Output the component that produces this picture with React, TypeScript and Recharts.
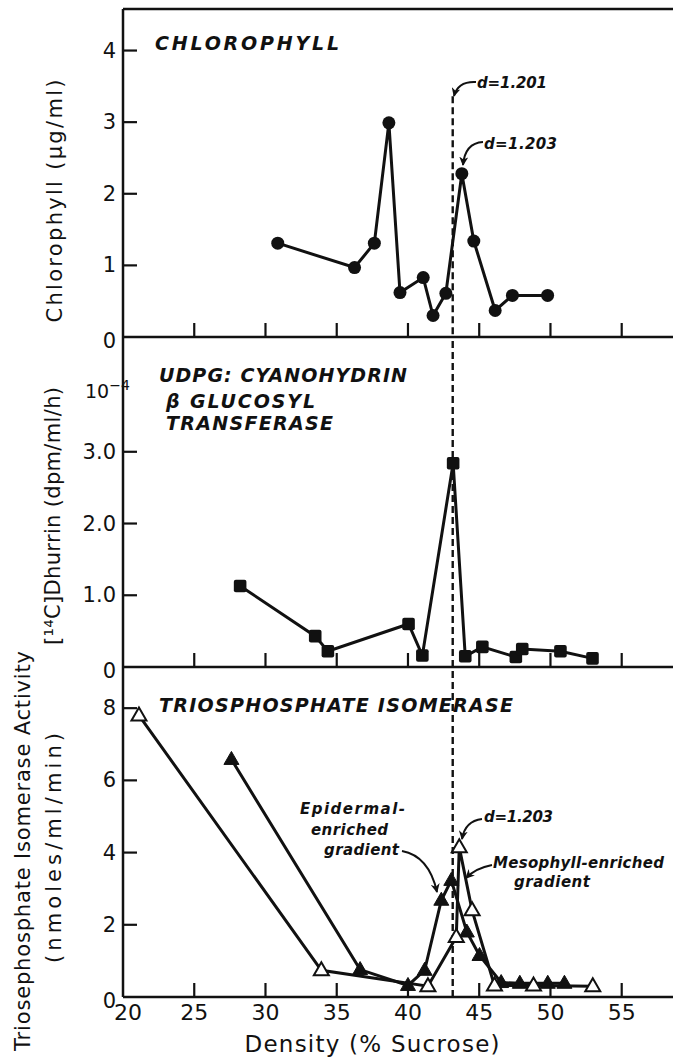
import React from 'react';
import { LineChart, Line, XAxis, YAxis, ReferenceLine } from 'recharts';

// ---------- data ----------
const xTicks = [20, 25, 30, 35, 40, 45, 50, 55];
const X_DOMAIN: [number, number] = [20, 58.6];
const DASH_X = 43.14;

const chlorophyllX = [30.86, 36.25, 37.64, 38.66, 39.44, 41.07, 41.76, 42.66, 43.78, 44.62, 46.12, 47.33, 49.8];
const chlorophyllY = [1.31, 0.97, 1.31, 2.99, 0.62, 0.83, 0.3, 0.61, 2.28, 1.34, 0.37, 0.58, 0.58];
const chlorophyllTicks = [0, 1, 2, 3, 4];
const chlorophyllTickLabels = ['0', '1', '2', '3', '4'];
const P1_MAX = 4.58;

const dhurrinX = [28.22, 33.49, 34.38, 40.04, 41.01, 43.17, 44.02, 45.22, 47.57, 48.02, 50.7, 52.95];
const dhurrinY = [1.13, 0.43, 0.22, 0.6, 0.16, 2.84, 0.15, 0.28, 0.14, 0.25, 0.22, 0.12];
const dhurrinTicks = [0, 1, 2, 3];
const dhurrinTickLabels = ['0', '1.0', '2.0', '3.0'];
const P2_MAX = 4.6;

const epidermalX = [27.61, 36.64, 40.0, 41.17, 42.34, 43.04, 44.13, 45.02, 46.54, 47.85, 49.81, 50.98];
const epidermalY = [6.58, 0.76, 0.32, 0.74, 2.68, 3.23, 1.8, 1.15, 0.4, 0.38, 0.38, 0.38];
const mesophyllX = [21.12, 33.92, 41.4, 43.39, 43.6, 44.5, 46.07, 48.81, 52.97];
const mesophyllY = [7.8, 0.74, 0.3, 1.66, 4.15, 2.4, 0.32, 0.32, 0.3];
const tpiTicks = [0, 2, 4, 6, 8];
const tpiTickLabels = ['0', '2', '4', '6', '8'];
const P3_MAX = 9.14;

const zip = (xs: number[], ys: number[]) => xs.map((x, i) => ({ x, y: ys[i] }));
const chlorophyllData = zip(chlorophyllX, chlorophyllY);
const dhurrinData = zip(dhurrinX, dhurrinY);
const epidermalData = zip(epidermalX, epidermalY);
const mesophyllData = zip(mesophyllX, mesophyllY);

// ---------- styles ----------
const FONT = '"DejaVu Sans", "Liberation Sans", sans-serif';
const INK = '#111';
const AXIS_W = 2.5;
const LINE_W = 3;

// ---------- ticks ----------
const makeYTick = (ticks: number[], labels: string[]) => (props: any) => {
  const { x, y, payload } = props;
  const i = ticks.indexOf(payload.value);
  const label = i >= 0 ? labels[i] : String(payload.value);
  const isZero = payload.value === 0;
  return (
    <g>
      {!isZero && <line x1={x} x2={x + 14} y1={y} y2={y} stroke={INK} strokeWidth={2.2} />}
      <text
        x={x - 7}
        y={y + (isZero ? 4 : 0)}
        textAnchor="end"
        dominantBaseline="central"
        fontFamily={FONT}
        fontSize={21}
        fill={INK}
      >
        {label}
      </text>
    </g>
  );
};

const makeXTick = (showLabel: boolean) => (props: any) => {
  const { x, y, payload } = props;
  return (
    <g>
      {payload.value !== 20 && <line x1={x} x2={x} y1={y} y2={y - 14} stroke={INK} strokeWidth={2.2} />}
      {showLabel && (
        <text
          x={x + (payload.value === 20 ? 5 : 0)}
          y={y + 23}
          textAnchor="middle"
          fontFamily={FONT}
          fontSize={22}
          fill={INK}
        >
          {payload.value}
        </text>
      )}
    </g>
  );
};

// ---------- markers ----------
const Circle = (p: any) => <circle key={`c${p.index}`} cx={p.cx} cy={p.cy} r={6.5} fill={INK} />;
const Square = (p: any) => (
  <rect key={`s${p.index}`} x={p.cx - 6.3} y={p.cy - 6.3} width={12.6} height={12.6} rx={2} fill={INK} />
);
const FilledTri = (p: any) => (
  <polygon
    key={`ft${p.index}`}
    points={`${p.cx},${p.cy - 8} ${p.cx - 7.5},${p.cy + 5} ${p.cx + 7.5},${p.cy + 5}`}
    fill={INK}
    stroke={INK}
    strokeWidth={1}
  />
);
const OpenTri = (p: any) => (
  <polygon
    key={`ot${p.index}`}
    points={`${p.cx},${p.cy - 8} ${p.cx - 7.5},${p.cy + 5} ${p.cx + 7.5},${p.cy + 5}`}
    fill="#fff"
    stroke={INK}
    strokeWidth={2}
  />
);

const xAxisCommon = {
  dataKey: 'x',
  type: 'number' as const,
  domain: X_DOMAIN,
  ticks: xTicks,
  allowDataOverflow: true,
  tickSize: 0,
  tickMargin: 0,
  tickLine: false,
  axisLine: { stroke: INK, strokeWidth: AXIS_W },
  interval: 0 as const,
};

const yAxisCommon = {
  type: 'number' as const,
  width: 123,
  tickSize: 0,
  tickMargin: 0,
  tickLine: false,
  allowDataOverflow: true,
  axisLine: { stroke: INK, strokeWidth: AXIS_W },
  interval: 0 as const,
};

const dashProps = { stroke: INK, strokeWidth: 2.4, strokeDasharray: '7 4' };

export default function App() {
  return (
    <div style={{ position: 'absolute', left: 0, top: 0, width: 673, height: 1061, background: '#fff', overflow: 'hidden' }}>
      {/* Panel 1: Chlorophyll */}
      <div style={{ position: 'absolute', left: 0, top: 0 }}>
        <LineChart width={673} height={360} margin={{ top: 9, right: 0, bottom: 22, left: 0 }}>
          <XAxis {...xAxisCommon} height={1} tick={makeXTick(false)} />
          <YAxis {...yAxisCommon} domain={[0, P1_MAX]} ticks={chlorophyllTicks} tick={makeYTick(chlorophyllTicks, chlorophyllTickLabels)} />
          <ReferenceLine y={P1_MAX} stroke={INK} strokeWidth={AXIS_W} />
          <ReferenceLine segment={[{ x: DASH_X, y: 3.36 }, { x: DASH_X, y: 0 }]} {...dashProps} />
          <Line
            data={chlorophyllData}
            dataKey="y"
            stroke={INK}
            strokeWidth={LINE_W}
            dot={Circle}
            activeDot={false}
            isAnimationActive={false}
          />
        </LineChart>
      </div>

      {/* Panel 2: Dhurrin */}
      <div style={{ position: 'absolute', left: 0, top: 330 }}>
        <LineChart width={673} height={370} margin={{ top: 7, right: 0, bottom: 32, left: 0 }}>
          <XAxis {...xAxisCommon} height={1} tick={makeXTick(false)} />
          <YAxis {...yAxisCommon} domain={[0, P2_MAX]} ticks={dhurrinTicks} tick={makeYTick(dhurrinTicks, dhurrinTickLabels)} />
          <ReferenceLine x={DASH_X} {...dashProps} />
          <Line
            data={dhurrinData}
            dataKey="y"
            stroke={INK}
            strokeWidth={LINE_W}
            dot={Square}
            activeDot={false}
            isAnimationActive={false}
          />
        </LineChart>
      </div>

      {/* Panel 3: Triosephosphate isomerase */}
      <div style={{ position: 'absolute', left: 0, top: 660 }}>
        <LineChart width={673} height={401} margin={{ top: 7, right: 0, bottom: 24, left: 0 }}>
          <XAxis {...xAxisCommon} height={40} tick={makeXTick(true)} />
          <YAxis {...yAxisCommon} domain={[0, P3_MAX]} ticks={tpiTicks} tick={makeYTick(tpiTicks, tpiTickLabels)} />
          <ReferenceLine x={DASH_X} {...dashProps} />
          <Line
            data={epidermalData}
            dataKey="y"
            name="Epidermal-enriched gradient"
            stroke={INK}
            strokeWidth={LINE_W}
            dot={FilledTri}
            activeDot={false}
            isAnimationActive={false}
          />
          <Line
            data={mesophyllData}
            dataKey="y"
            name="Mesophyll-enriched gradient"
            stroke={INK}
            strokeWidth={LINE_W}
            dot={OpenTri}
            activeDot={false}
            isAnimationActive={false}
          />
        </LineChart>
      </div>

      {/* Text overlay */}
      <svg width={673} height={1061} style={{ position: 'absolute', left: 0, top: 0, pointerEvents: 'none' }}>
        <defs>
          <marker id="ah" viewBox="0 0 10 10" refX="9" refY="5" markerWidth="9" markerHeight="9" markerUnits="userSpaceOnUse" orient="auto">
            <path d="M0,0 L10,5 L0,10 L3,5 z" fill={INK} />
          </marker>
        </defs>
        <g fontFamily={FONT} fill={INK}>
          {/* axis titles */}
          <text transform="translate(55,201) rotate(-90)" textAnchor="middle" dominantBaseline="central" fontSize={21} textLength={243} lengthAdjust="spacing">
            Chlorophyll (µg/ml)
          </text>
          <text transform="translate(53,516) rotate(-90)" textAnchor="middle" dominantBaseline="central" fontSize={21} textLength={258} lengthAdjust="spacing">
            [¹⁴C]Dhurrin (dpm/ml/h)
          </text>
          <text transform="translate(23,851) rotate(-90)" textAnchor="middle" dominantBaseline="central" fontSize={21} textLength={400} lengthAdjust="spacing">
            Triosephosphate Isomerase Activity
          </text>
          <text transform="translate(54,848) rotate(-90)" textAnchor="middle" dominantBaseline="central" fontSize={21} textLength={230} lengthAdjust="spacing">
            (nmoles/ml/min)
          </text>
          <text x={372} y={1052} textAnchor="middle" fontSize={23} textLength={255} lengthAdjust="spacing">
            Density (% Sucrose)
          </text>
          <text x={85} y={398} fontSize={19}>
            10<tspan dy={-8} fontSize={14}>−4</tspan>
          </text>

          {/* panel titles */}
          <g fontStyle="italic" fontWeight="bold" fontSize={19}>
            <text x={155} y={50} textLength={184} lengthAdjust="spacing">CHLOROPHYLL</text>
            <text x={159} y={382} textLength={248} lengthAdjust="spacing">UDPG: CYANOHYDRIN</text>
            <text x={166} y={408} textLength={149} lengthAdjust="spacing">β GLUCOSYL</text>
            <text x={166} y={430} textLength={167} lengthAdjust="spacing">TRANSFERASE</text>
            <text x={159} y={712} textLength={354} lengthAdjust="spacing">TRIOSPHOSPHATE ISOMERASE</text>
          </g>

          {/* annotations */}
          <g fontStyle="italic" fontWeight="bold" fontSize={15}>
            <text x={477} y={88} textLength={70} lengthAdjust="spacing">d=1.201</text>
            <text x={484} y={149} textLength={73} lengthAdjust="spacing">d=1.203</text>
            <text x={484} y={822} textLength={69} lengthAdjust="spacing">d=1.203</text>
            <text x={300} y={814} textLength={105} lengthAdjust="spacing">Epidermal-</text>
            <text x={311} y={835} textLength={77} lengthAdjust="spacing">enriched</text>
            <text x={324} y={855} textLength={75} lengthAdjust="spacing">gradient</text>
            <text x={493} y={868} textLength={171} lengthAdjust="spacing">Mesophyll-enriched</text>
            <text x={514} y={887} textLength={76} lengthAdjust="spacing">gradient</text>
          </g>
        </g>
        <g fill="none" stroke={INK} strokeWidth={2}>
          <path d="M 476 82 Q 458 81 454 96" markerEnd="url(#ah)" />
          <path d="M 483 142 Q 465 143 463 165" markerEnd="url(#ah)" />
          <path d="M 482 819 Q 465 821 462 839" markerEnd="url(#ah)" />
          <path d="M 402 851 Q 429 856 437 892" markerEnd="url(#ah)" />
          <path d="M 492 865 Q 476 868 466 878" markerEnd="url(#ah)" />
        </g>
      </svg>
    </div>
  );
}
